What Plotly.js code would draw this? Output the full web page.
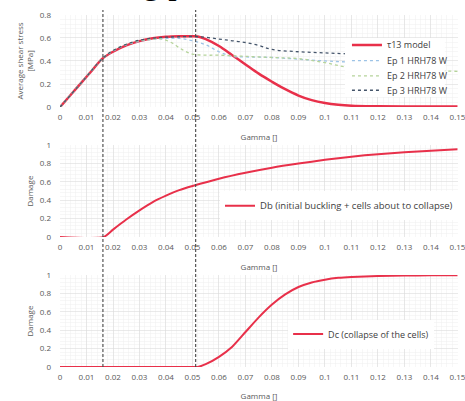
<!DOCTYPE html>
<html><head><meta charset="utf-8">
<script src="https://cdn.plot.ly/plotly-3.0.1.min.js"></script>
<style>html,body{margin:0;padding:0;background:#fff;}#c{width:465px;height:401px;}</style>
</head><body><div id="c"></div>
<script>
// Top panel: stress
var gModel = [0,0.004,0.008,0.012,0.016,0.02,0.025,0.03,0.035,0.04,0.045,0.05,0.052,0.055,0.06,0.065,0.07,0.075,0.08,0.085,0.09,0.095,0.1,0.105,0.11,0.12,0.13,0.14,0.15];
var sModel = [0,0.105,0.21,0.315,0.42,0.48,0.535,0.572,0.596,0.609,0.614,0.615,0.612,0.59,0.53,0.45,0.37,0.29,0.22,0.155,0.1,0.06,0.035,0.02,0.012,0.007,0.005,0.005,0.005];
var gEp1 = [0,0.008,0.016,0.02,0.025,0.03,0.035,0.04,0.045,0.05,0.055,0.06,0.065,0.07,0.08,0.09,0.1,0.11];
var sEp1 = [0,0.21,0.42,0.485,0.54,0.57,0.588,0.595,0.596,0.575,0.54,0.48,0.44,0.435,0.43,0.415,0.4,0.39];
var gEp2 = [0,0.008,0.016,0.02,0.025,0.03,0.035,0.038,0.042,0.046,0.05,0.055,0.06,0.07,0.08,0.09,0.1,0.11,0.13,0.15];
var sEp2 = [0,0.21,0.42,0.49,0.545,0.575,0.59,0.592,0.56,0.5,0.46,0.45,0.45,0.44,0.43,0.42,0.385,0.34,0.325,0.31];
var gEp3 = [0,0.008,0.016,0.02,0.025,0.03,0.035,0.04,0.045,0.05,0.055,0.06,0.065,0.07,0.075,0.08,0.09,0.1,0.11];
var sEp3 = [0,0.21,0.42,0.49,0.545,0.58,0.598,0.606,0.61,0.612,0.605,0.59,0.575,0.56,0.535,0.5,0.48,0.47,0.46];
// Middle panel: Db
var gDb = [0,0.0165,0.02,0.025,0.03,0.035,0.04,0.045,0.05,0.06,0.07,0.08,0.09,0.1,0.11,0.12,0.13,0.14,0.15];
var dDb = [0,0,0.08,0.19,0.29,0.38,0.45,0.51,0.555,0.635,0.7,0.755,0.8,0.84,0.875,0.902,0.922,0.94,0.955];
// Bottom panel: Dc
var gDc = [0,0.051,0.052,0.055,0.06,0.065,0.07,0.075,0.08,0.085,0.09,0.095,0.1,0.105,0.11,0.12,0.13,0.14,0.15];
var dDc = [0,0,0,0.03,0.11,0.22,0.38,0.54,0.68,0.79,0.87,0.92,0.95,0.97,0.98,0.99,0.995,0.997,0.998];
var vLines = [0.0162, 0.0512];
var xTicks = [0,0.01,0.02,0.03,0.04,0.05,0.06,0.07,0.08,0.09,0.1,0.11,0.12,0.13,0.14,0.15];
var xTickText = ['0','0.01','0.02','0.03','0.04','0.05','0.06','0.07','0.08','0.09','0.1','0.11','0.12','0.13','0.14','0.15'];

var red = '#e8304a';
var traces = [
 {x:gModel,y:sModel,name:'\u03c413 model',mode:'lines',line:{color:red,width:2.5,shape:'spline'},xaxis:'x',yaxis:'y',legend:'legend'},
 {x:gEp1,y:sEp1,name:'Ep 1 HRH78 W',mode:'lines',line:{color:'#9dc3e6',width:1.3,dash:'dot',shape:'spline'},xaxis:'x',yaxis:'y',legend:'legend4'},
 {x:gEp2,y:sEp2,name:'Ep 2 HRH78 W',mode:'lines',line:{color:'#b5d39a',width:1.3,dash:'dot',shape:'spline'},xaxis:'x',yaxis:'y',legend:'legend5'},
 {x:gEp3,y:sEp3,name:'Ep 3 HRH78 W',mode:'lines',line:{color:'#44546a',width:1.3,dash:'dot',shape:'spline'},xaxis:'x',yaxis:'y',legend:'legend6'},
 {x:gDb,y:dDb,name:'Db (initial buckling + cells about to collapse)',mode:'lines',line:{color:red,width:2,shape:'spline',smoothing:0.6},xaxis:'x2',yaxis:'y2',legend:'legend2'},
 {x:gDc,y:dDc,name:'Dc (collapse of the cells)',mode:'lines',line:{color:red,width:2,shape:'spline',smoothing:0.6},xaxis:'x3',yaxis:'y3',legend:'legend3'}
];
var fnt = {family:'"Open Sans", "Liberation Sans", sans-serif', size:8, color:'#595959'};
function xa(anchor){
 return {range:[0,0.1502],tickvals:xTicks,ticktext:xTickText,anchor:anchor,showgrid:true,gridcolor:'#dcdcdc',gridwidth:0.6,
  minor:{dtick:0.002,showgrid:true,gridcolor:'#f0f0f0',gridwidth:0.5},zeroline:false,showline:false,ticks:'',tickfont:fnt,
  ticklabelstandoff:4,ticklabeloverflow:'allow',title:{text:'Gamma []',font:fnt,standoff:13},fixedrange:true};
}
function ya(anchor,dom,rng,dt,title){
 return {domain:dom,range:rng,dtick:dt,anchor:anchor,showgrid:true,gridcolor:'#dcdcdc',gridwidth:0.6,
  minor:{dtick:dt/5,showgrid:true,gridcolor:'#f0f0f0',gridwidth:0.5},zeroline:false,showline:false,ticks:'',tickfont:fnt,
  ticklabelstandoff:8,title:{text:title,font:fnt,standoff:4}};
}
var shapes = vLines.map(function(v){return {type:'line',xref:'x',yref:'paper',x0:v,x1:v,y0:0.085,y1:0.975,line:{color:'#454545',width:1.1,dash:'3px,2px'}};});
// white panel behind the top legend entries (the legend box hides the lines in the reference)
shapes.push({type:'rect',xref:'paper',yref:'paper',x0:0.716,x1:0.967,y0:0.758,y1:0.905,fillcolor:'#fff',line:{width:0},layer:'above'});
var lg = {font:{family:fnt.family,size:9,color:'#404040'},bgcolor:'rgba(255,255,255,1)',borderwidth:0,tracegroupgap:0,itemwidth:30,xanchor:'left',yanchor:'middle'};
var lgTop = Object.assign({},lg,{bgcolor:'rgba(0,0,0,0)'});
var lgTopX = 0.721;
var layout = {
 width:465,height:401,margin:{l:60,r:7,t:0,b:0},paper_bgcolor:'#fff',plot_bgcolor:'#fff',showlegend:true,
 xaxis:xa('y'),
 xaxis2:xa('y2'),
 xaxis3:xa('y3'),
 yaxis:ya('x',[0.733,0.963],[0,0.8],0.2,'Average shear stress<br>[MPa]'),
 yaxis2:ya('x2',[0.409,0.638],[0,1],0.2,'Damage'),
 yaxis3:ya('x3',[0.085,0.314],[0,1],0.2,'Damage'),
 legend:Object.assign({},lgTop,{x:lgTopX,y:0.888}),
 legend4:Object.assign({},lgTop,{x:lgTopX,y:0.849}),
 legend5:Object.assign({},lgTop,{x:lgTopX,y:0.811}),
 legend6:Object.assign({},lgTop,{x:lgTopX,y:0.775}),
 legend2:Object.assign({},lg,{x:1.0,y:0.487,xanchor:'right',font:Object.assign({},lg.font,{size:9.5})}),
 legend3:Object.assign({},lg,{x:0.94,y:0.167,xanchor:'right'}),
 shapes:shapes,
 annotations:[{xref:'paper',yref:'paper',x:0.06,y:1.0,xanchor:'left',yanchor:'bottom',yshift:-3,showarrow:false,
   text:'using plot',font:{family:'"Liberation Serif", serif',size:34,color:'#000'}}]
};
Plotly.newPlot('c',traces,layout,{staticPlot:true});
</script></body></html>
